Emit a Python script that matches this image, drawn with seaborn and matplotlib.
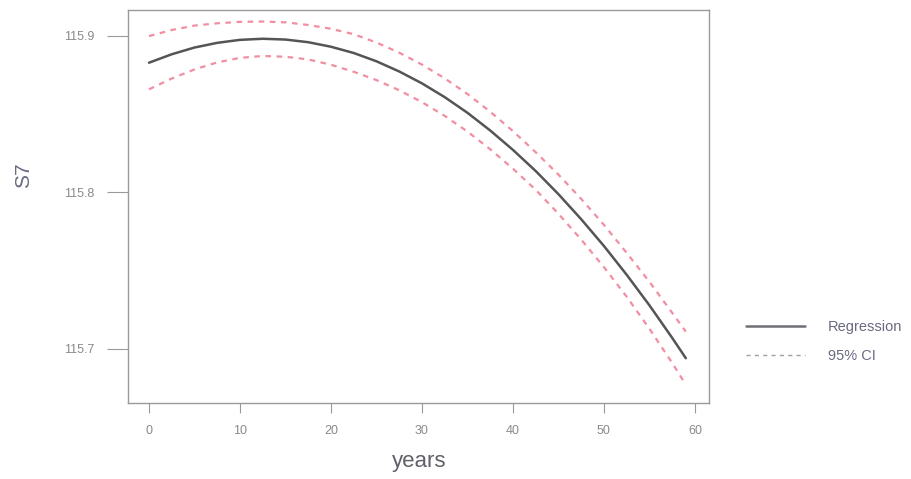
import matplotlib
matplotlib.use("Agg")
import matplotlib.pyplot as plt
from matplotlib.lines import Line2D
import seaborn as sns
import pandas as pd

years = [0, 2.5, 5, 7.5, 10, 12.5, 15, 17.5, 20, 22.5, 25, 27.5, 30, 32.5, 35,
         37.5, 40, 42.5, 45, 47.5, 50, 52.5, 55, 57.5, 59]
regression = [115.8829, 115.8883, 115.8926, 115.8956, 115.8975, 115.8982, 115.8977,
              115.8960, 115.8931, 115.8891, 115.8838, 115.8773, 115.8697, 115.8609,
              115.8509, 115.8396, 115.8272, 115.8137, 115.7989, 115.7829, 115.7658,
              115.7474, 115.7279, 115.7071, 115.6941]
ci_upper = [115.8999, 115.9038, 115.9066, 115.9081, 115.9090, 115.9092, 115.9087,
            115.9070, 115.9046, 115.9011, 115.8958, 115.8893, 115.8817, 115.8729,
            115.8629, 115.8516, 115.8392, 115.8257, 115.8114, 115.7959, 115.7793,
            115.7614, 115.7429, 115.7231, 115.7111]
ci_lower = [115.8659, 115.8728, 115.8786, 115.8831, 115.8860, 115.8872, 115.8867,
            115.8850, 115.8816, 115.8771, 115.8718, 115.8653, 115.8577, 115.8489,
            115.8389, 115.8276, 115.8152, 115.8017, 115.7864, 115.7699, 115.7523,
            115.7334, 115.7129, 115.6911, 115.6771]
x_ticks = [0, 10, 20, 30, 40, 50, 60]
y_ticks = [115.7, 115.8, 115.9]
y_tick_labels = ["115.7", "115.8", "115.9"]

sns.set_style("white")
plt.rcParams["font.family"] = ["Liberation Sans", "DejaVu Sans"]

df = pd.DataFrame({"years": years, "reg": regression, "up": ci_upper, "lo": ci_lower})

fig = plt.figure(figsize=(9.11, 4.79), dpi=100)
ax = fig.add_axes([0.1405, 0.1587, 0.6377, 0.8205])

ci_color = "#f28ea2"
sns.lineplot(data=df, x="years", y="up", ax=ax, color=ci_color, lw=1.6,
             linestyle=(0, (2.5, 2.5)))
sns.lineplot(data=df, x="years", y="lo", ax=ax, color=ci_color, lw=1.6,
             linestyle=(0, (2.5, 2.5)))
sns.lineplot(data=df, x="years", y="reg", ax=ax, color="#555555", lw=1.8)

ax.set_xlim(-2.31, 61.54)
ax.set_ylim(115.6655, 115.9166)
ax.set_xticks(x_ticks)
ax.set_yticks(y_ticks)
ax.set_yticklabels(y_tick_labels)

for s in ax.spines.values():
    s.set_color("#9a9a9a")
    s.set_linewidth(1.0)

ax.tick_params(axis="y", direction="out", length=15, width=0.8, color="#9a9a9a",
               pad=9, labelsize=9, labelcolor="#8a8a8a", left=True)
ax.tick_params(axis="x", direction="out", length=7, width=0.8, color="#9a9a9a",
               pad=9, labelsize=9, labelcolor="#8a8a8a", bottom=True)

ax.set_xlabel("years", fontsize=16, color="#606068")
ax.set_ylabel("S7", fontsize=15, color="#6a6a80")
ax.xaxis.set_label_coords((419 - 128) / 581, (403 - 451) / 393)
ax.yaxis.set_label_coords((33 - 128) / 581, (403 - 175) / 393)

handles = [Line2D([], [], color="#6f6f78", lw=1.8),
           Line2D([], [], color="#a0a0a8", lw=1.0, linestyle=(0, (3, 3)))]
fig.legend(handles, ["Regression", "95% CI"], loc="center left",
           bbox_to_anchor=(0.805, 0.287), frameon=False, fontsize=10.5,
           handlelength=4.0, handletextpad=1.6, labelspacing=1.0,
           labelcolor="#6a6a80")

fig.savefig("out.png", dpi=100)
